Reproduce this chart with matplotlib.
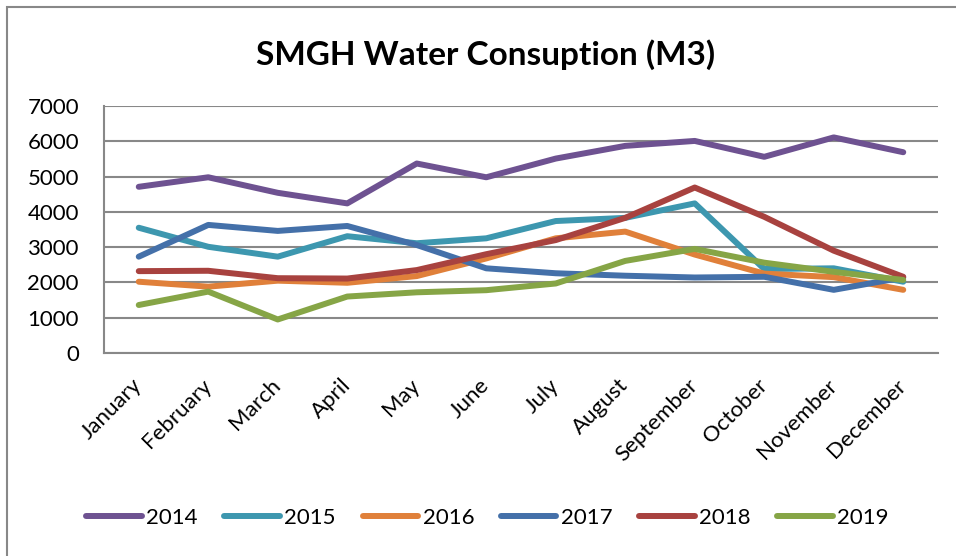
import matplotlib.pyplot as plt
from matplotlib.patches import Rectangle
import numpy as np

plt.rcParams['font.family'] = ['Lato', 'DejaVu Sans']

months = ['January', 'February', 'March', 'April', 'May', 'June', 'July',
          'August', 'September', 'October', 'November', 'December']
years = ['2014', '2015', '2016', '2017', '2018', '2019']

y2014 = [4710, 4980, 4540, 4240, 5370, 4980, 5510, 5870, 6010, 5560, 6110, 5690]
y2015 = [3550, 3010, 2730, 3310, 3110, 3250, 3740, 3830, 4240, 2380, 2400, 2020]
y2016 = [2020, 1880, 2050, 1990, 2180, 2680, 3250, 3440, 2790, 2250, 2150, 1790]
y2017 = [2730, 3630, 3460, 3600, 3060, 2400, 2260, 2190, 2140, 2160, 1790, 2140]
y2018 = [2320, 2330, 2120, 2110, 2350, 2800, 3200, 3830, 4690, 3860, 2900, 2160]
y2019 = [1360, 1740, 950, 1600, 1720, 1780, 1970, 2610, 2950, 2560, 2300, 2070]

series = [y2014, y2015, y2016, y2017, y2018, y2019]
colors = ['#6E5291', '#3D97AF', '#E0803A', '#4470A9', '#A8423F', '#86A546']

fig = plt.figure(figsize=(9.56, 5.56), dpi=100)
ax = fig.add_axes([104 / 956, 1 - 353 / 556, (938 - 104) / 956, (353 - 106) / 556])

x = np.arange(len(months))
for vals, c, lab in zip(series, colors, years):
    ax.plot(x, vals, color=c, lw=4.3, label=lab, solid_capstyle='round',
            solid_joinstyle='round')

ax.set_xlim(-0.5, 11.5)
ax.set_ylim(0, 7000)
ax.set_yticks(range(0, 7001, 1000))
ax.set_xticks(x)
ax.set_xticklabels(months, rotation=45, ha='right', va='center',
                   rotation_mode='anchor', fontsize=16.5)
ax.tick_params(axis='both', length=0, labelsize=16, colors='black')
ax.tick_params(axis='y', pad=18)
ax.tick_params(axis='x', pad=21)
ax.grid(axis='y', color='#888888', lw=1.5)
ax.set_axisbelow(True)
for s in ['top', 'right']:
    ax.spines[s].set_visible(False)
for s in ['left', 'bottom']:
    ax.spines[s].set_color('#888888')
    ax.spines[s].set_linewidth(1.5)

fig.text(0.508, 1 - 55 / 556, 'SMGH Water Consuption (M3)', ha='center',
         va='center', fontsize=24, fontweight='bold')

fig.legend(loc='center', bbox_to_anchor=(0.51, 1 - 518 / 556), ncol=6,
           frameon=False, fontsize=16, handlelength=2.5, handletextpad=0.2,
           columnspacing=1.2)

fig.patches.append(Rectangle((7 / 956, -0.05), 1.1, 1 - 7 / 556 + 0.05,
                             transform=fig.transFigure, fill=False,
                             edgecolor='#888888', lw=1.5))

fig.savefig('out.png', dpi=100)
